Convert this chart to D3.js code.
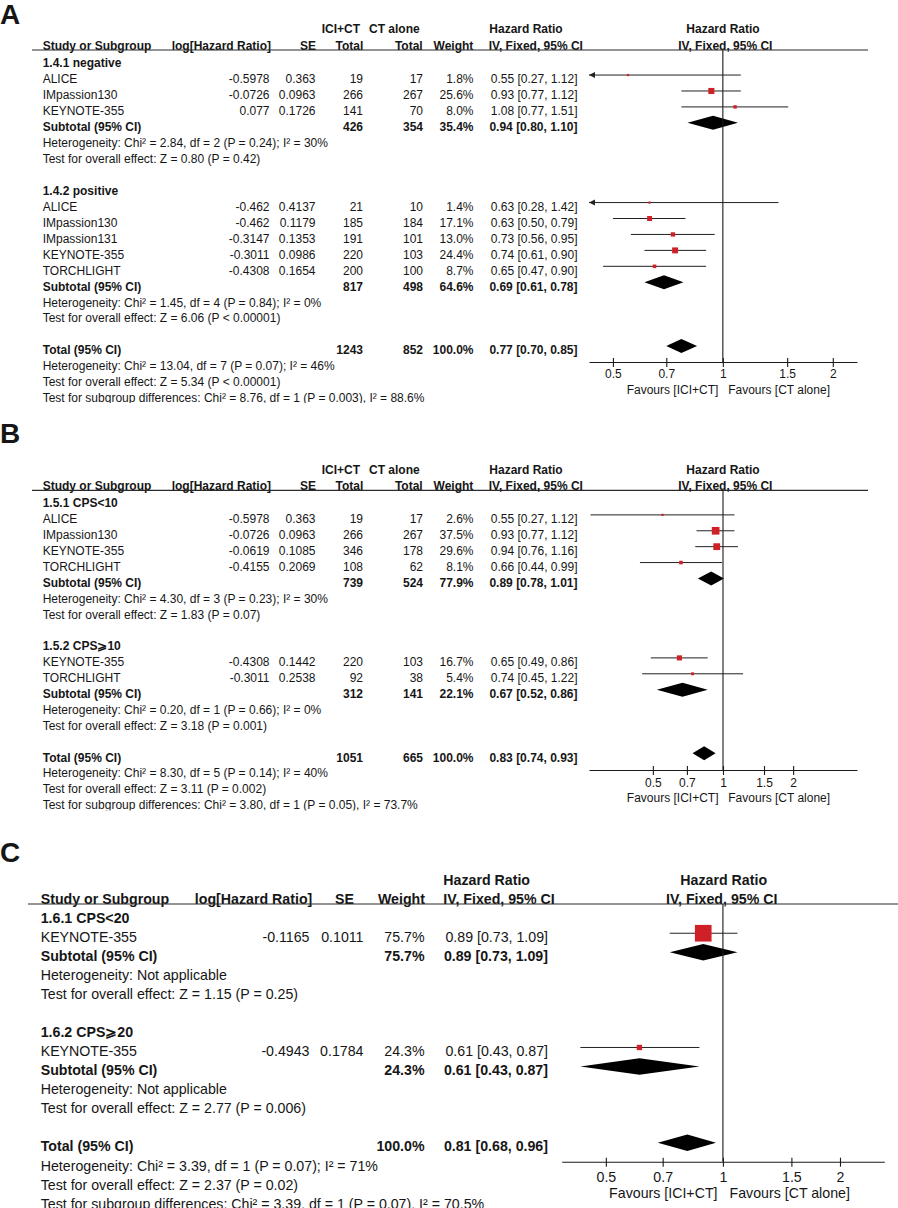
<!DOCTYPE html>
<html>
<head>
<meta charset="utf-8">
<script src="https://cdn.jsdelivr.net/npm/d3@7"></script>
<style>
  body { margin: 0; background: #fff; }
  svg { display: block; }
  text { font-family: "Liberation Sans", Arial, Helvetica, sans-serif; fill: #161616; }
</style>
</head>
<body>
<svg id="chart" width="898" height="1208"></svg>
<script>
// ---- Panel A: PD-L1 negative / positive
var aGroups = ["1.4.1 negative", "1.4.2 positive"];
var aStudies = ["ALICE", "IMpassion130", "KEYNOTE-355", "ALICE", "IMpassion130", "IMpassion131", "KEYNOTE-355", "TORCHLIGHT"];
var aGroupOf = [0, 0, 0, 1, 1, 1, 1, 1];
var aLogHR = [-0.5978, -0.0726, 0.077, -0.462, -0.462, -0.3147, -0.3011, -0.4308];
var aSE = [0.363, 0.0963, 0.1726, 0.4137, 0.1179, 0.1353, 0.0986, 0.1654];
var aExpN = [19, 266, 141, 21, 185, 191, 220, 200];
var aCtlN = [17, 267, 70, 10, 184, 101, 103, 100];
var aWeight = [1.8, 25.6, 8.0, 1.4, 17.1, 13.0, 24.4, 8.7];
var aHR = [0.55, 0.93, 1.08, 0.63, 0.63, 0.73, 0.74, 0.65];
var aLow = [0.27, 0.77, 0.77, 0.28, 0.50, 0.56, 0.61, 0.47];
var aHigh = [1.12, 1.12, 1.51, 1.42, 0.79, 0.95, 0.90, 0.90];
var aSubExpN = [426, 817];
var aSubCtlN = [354, 498];
var aSubWeight = [35.4, 64.6];
var aSubHR = [0.94, 0.69];
var aSubLow = [0.80, 0.61];
var aSubHigh = [1.10, 0.78];
var aSubHet = ["Heterogeneity: Chi² = 2.84, df = 2 (P = 0.24); I² = 30%", "Heterogeneity: Chi² = 1.45, df = 4 (P = 0.84); I² = 0%"];
var aSubTest = ["Test for overall effect: Z = 0.80 (P = 0.42)", "Test for overall effect: Z = 6.06 (P < 0.00001)"];
var aTotalN = [1243, 852];
var aTotalHR = [0.77, 0.70, 0.85];
var aNotes = ["Heterogeneity: Chi² = 13.04, df = 7 (P = 0.07); I² = 46%",
              "Test for overall effect: Z = 5.34 (P < 0.00001)",
              "Test for subgroup differences: Chi² = 8.76, df = 1 (P = 0.003), I² = 88.6%"];

// ---- Panel B: CPS<10 / CPS>=10
var bGroups = ["1.5.1 CPS<10", "1.5.2 CPS⩾10"];
var bStudies = ["ALICE", "IMpassion130", "KEYNOTE-355", "TORCHLIGHT", "KEYNOTE-355", "TORCHLIGHT"];
var bGroupOf = [0, 0, 0, 0, 1, 1];
var bLogHR = [-0.5978, -0.0726, -0.0619, -0.4155, -0.4308, -0.3011];
var bSE = [0.363, 0.0963, 0.1085, 0.2069, 0.1442, 0.2538];
var bExpN = [19, 266, 346, 108, 220, 92];
var bCtlN = [17, 267, 178, 62, 103, 38];
var bWeight = [2.6, 37.5, 29.6, 8.1, 16.7, 5.4];
var bHR = [0.55, 0.93, 0.94, 0.66, 0.65, 0.74];
var bLow = [0.27, 0.77, 0.76, 0.44, 0.49, 0.45];
var bHigh = [1.12, 1.12, 1.16, 0.99, 0.86, 1.22];
var bSubExpN = [739, 312];
var bSubCtlN = [524, 141];
var bSubWeight = [77.9, 22.1];
var bSubHR = [0.89, 0.67];
var bSubLow = [0.78, 0.52];
var bSubHigh = [1.01, 0.86];
var bSubHet = ["Heterogeneity: Chi² = 4.30, df = 3 (P = 0.23); I² = 30%", "Heterogeneity: Chi² = 0.20, df = 1 (P = 0.66); I² = 0%"];
var bSubTest = ["Test for overall effect: Z = 1.83 (P = 0.07)", "Test for overall effect: Z = 3.18 (P = 0.001)"];
var bTotalN = [1051, 665];
var bTotalHR = [0.83, 0.74, 0.93];
var bNotes = ["Heterogeneity: Chi² = 8.30, df = 5 (P = 0.14); I² = 40%",
              "Test for overall effect: Z = 3.11 (P = 0.002)",
              "Test for subgroup differences: Chi² = 3.80, df = 1 (P = 0.05), I² = 73.7%"];

// ---- Panel C: CPS<20 / CPS>=20
var cGroups = ["1.6.1 CPS<20", "1.6.2 CPS⩾20"];
var cStudies = ["KEYNOTE-355", "KEYNOTE-355"];
var cGroupOf = [0, 1];
var cLogHR = [-0.1165, -0.4943];
var cSE = [0.1011, 0.1784];
var cWeight = [75.7, 24.3];
var cHR = [0.89, 0.61];
var cLow = [0.73, 0.43];
var cHigh = [1.09, 0.87];
var cSubWeight = [75.7, 24.3];
var cSubHR = [0.89, 0.61];
var cSubLow = [0.73, 0.43];
var cSubHigh = [1.09, 0.87];
var cSubHet = ["Heterogeneity: Not applicable", "Heterogeneity: Not applicable"];
var cSubTest = ["Test for overall effect: Z = 1.15 (P = 0.25)", "Test for overall effect: Z = 2.77 (P = 0.006)"];
var cTotalHR = [0.81, 0.68, 0.96];
var cNotes = ["Heterogeneity: Chi² = 3.39, df = 1 (P = 0.07); I² = 71%",
              "Test for overall effect: Z = 2.37 (P = 0.02)",
              "Test for subgroup differences: Chi² = 3.39, df = 1 (P = 0.07), I² = 70.5%"];

var axisTicks = [0.5, 0.7, 1, 1.5, 2];
var favours = ["Favours [ICI+CT]", "Favours [CT alone]"];

var W = 898;
var svg = d3.select("#chart");
var fmt2 = d3.format(".2f"), fmt1 = d3.format(".1f");

// header cells for the panels with arm totals (A, B)
var hdrTotals = [
  {t: "ICI+CT", x: 321.7, a: "start", r: 1},
  {t: "CT alone", x: 369, a: "start", r: 1},
  {t: "Hazard Ratio", x: 489.3, a: "start", r: 1},
  {t: "Hazard Ratio", x: 723, a: "middle", r: 1},
  {t: "Study or Subgroup", x: 42.7, a: "start", r: 2},
  {t: "log[Hazard Ratio]", x: 271, a: "end", r: 2},
  {t: "SE", x: 316, a: "end", r: 2},
  {t: "Total", x: 363.3, a: "end", r: 2},
  {t: "Total", x: 422.7, a: "end", r: 2},
  {t: "Weight", x: 473.3, a: "end", r: 2},
  {t: "IV, Fixed, 95% CI", x: 488.7, a: "start", r: 2},
  {t: "IV, Fixed, 95% CI", x: 725.3, a: "middle", r: 2}
];
var hdrC = [
  {t: "Hazard Ratio", x: 443.3, a: "start", r: 1},
  {t: "Hazard Ratio", x: 723.7, a: "middle", r: 1},
  {t: "Study or Subgroup", x: 40.7, a: "start", r: 2},
  {t: "log[Hazard Ratio]", x: 312.3, a: "end", r: 2},
  {t: "SE", x: 354, a: "end", r: 2},
  {t: "Weight", x: 425, a: "end", r: 2},
  {t: "IV, Fixed, 95% CI", x: 443.3, a: "start", r: 2},
  {t: "IV, Fixed, 95% CI", x: 721.7, a: "middle", r: 2}
];

var layoutA = {
  label: "A", labelY: 24, top: 0, font: 12, hdr1Y: 33.3, lineY: 50, lineX: [32, 868],
  row0: 63.1, rowH: 15.94, markDy: -4, plotX: [589, 857], domain: [0.43, 2.33],
  axisY: 362, tickDy: 16.3, favDy: 31.5, favGap: [4.5, 5.3], clipY: 403,
  diamondH: 14, sizeExp: 0.5, sizeMax: 12, header: hdrTotals,
  cols: {name: 42.7, logHR: 269.5, se: 315.5, expN: 363, ctlN: 423, w: 473.5, ci: 577.5}
};
var layoutB = Object.assign({}, layoutA, {
  label: "B", labelY: 443, top: 410, hdr1Y: 474, lineY: 490.3,
  row0: 503, rowH: 15.89, domain: [0.266, 3.76], axisY: 770, tickDy: 17.3, clipY: 810.5,
  sizeMax: 12.5
});
var layoutC = {
  label: "C", labelY: 862, top: 815, font: 14.2, hdr1Y: 885, lineY: 904, lineX: [28, 898],
  row0: 917.9, rowH: 19.04, markDy: -3.7, plotX: [561.7, 884.3], domain: [0.385, 2.6],
  axisY: 1161.7, tickDy: 20, favDy: 36, favGap: [5.4, 6.6], clipY: 1208,
  diamondH: 16.5, sizeExp: 1, sizeMax: 22, header: hdrC,
  cols: {name: 40.7, logHR: 309.5, se: 363.5, w: 424.5, ci: 548}
};

function buildRows(D) {
  var rows = [];
  D.groups.forEach(function(name, g) {
    rows.push({kind: "group", text: name});
    D.studies.forEach(function(s, i) {
      if (D.groupOf[i] !== g) return;
      rows.push({kind: "study", text: s, logHR: D.logHR[i], se: D.se[i],
        expN: D.expN ? D.expN[i] : null, ctlN: D.ctlN ? D.ctlN[i] : null,
        w: D.weight[i], hr: D.hr[i], lo: D.low[i], hi: D.high[i]});
    });
    rows.push({kind: "sub", text: "Subtotal (95% CI)",
      expN: D.subExpN ? D.subExpN[g] : null, ctlN: D.subCtlN ? D.subCtlN[g] : null,
      w: D.subWeight[g], hr: D.subHR[g], lo: D.subLow[g], hi: D.subHigh[g]});
    rows.push({kind: "note", text: D.subHet[g]});
    rows.push({kind: "note", text: D.subTest[g]});
    rows.push({kind: "blank"});
  });
  rows.push({kind: "total", text: "Total (95% CI)",
    expN: D.totalN ? D.totalN[0] : null, ctlN: D.totalN ? D.totalN[1] : null,
    w: 100, hr: D.totalHR[0], lo: D.totalHR[1], hi: D.totalHR[2]});
  D.notes.forEach(function(n) { rows.push({kind: "note", text: n}); });
  return rows;
}

function drawPanel(L, D) {
  var rows = buildRows(D);
  var clipId = "clip" + L.label;
  svg.append("clipPath").attr("id", clipId)
    .append("rect").attr("x", 0).attr("y", L.top).attr("width", W).attr("height", L.clipY - L.top);

  svg.append("text")
    .attr("x", 0).attr("y", L.labelY)
    .style("font-size", "28px").style("font-weight", "bold")
    .text(L.label);

  var g = svg.append("g").attr("clip-path", "url(#" + clipId + ")").style("font-size", L.font + "px");

  // headers
  g.selectAll(".hdr").data(L.header).enter().append("text")
    .attr("x", function(d) { return d.x; })
    .attr("y", function(d) { return d.r === 1 ? L.hdr1Y : L.lineY - 0.5; })
    .attr("text-anchor", function(d) { return d.a; })
    .style("font-weight", "bold")
    .text(function(d) { return d.t; });

  g.append("line")
    .attr("x1", L.lineX[0]).attr("x2", L.lineX[1])
    .attr("y1", L.lineY).attr("y2", L.lineY)
    .attr("stroke", "#2a2a2a").attr("stroke-width", 1.2);

  var x = d3.scaleLog().domain(L.domain).range(L.plotX);
  var size = d3.scalePow().exponent(L.sizeExp).domain([0, 100]).range([0, L.sizeMax]);
  var base = L.font * 0.36;
  var C = L.cols;

  rows.forEach(function(r, i) {
    var cy = L.row0 + i * L.rowH;
    var by = cy + base;
    if (r.kind === "blank") return;
    var bold = r.kind === "group" || r.kind === "sub" || r.kind === "total";
    var cell = function(txt, xx, anchor) {
      g.append("text").attr("x", xx).attr("y", by)
        .attr("text-anchor", anchor || "end")
        .style("font-weight", bold ? "bold" : "normal")
        .text(txt);
    };
    cell(r.text, C.name, "start");
    if (r.kind === "group" || r.kind === "note") return;

    if (r.kind === "study") {
      cell(String(r.logHR), C.logHR);
      cell(String(r.se), C.se);
    }
    if (C.expN !== undefined && r.expN != null) {
      cell(String(r.expN), C.expN);
      cell(String(r.ctlN), C.ctlN);
    }
    cell(fmt1(r.w) + "%", C.w);
    cell(fmt2(r.hr) + " [" + fmt2(r.lo) + ", " + fmt2(r.hi) + "]", C.ci);

    var my = cy + L.markDy;
    if (r.kind === "study") {
      var d0 = L.domain[0], d1 = L.domain[1];
      var xl = x(Math.max(r.lo, d0)), xh = x(Math.min(r.hi, d1));
      g.append("line").attr("x1", xl).attr("x2", xh).attr("y1", my).attr("y2", my)
        .attr("stroke", "#222").attr("stroke-width", 1);
      if (r.lo < d0) {
        g.append("path")
          .attr("d", "M" + xl + "," + my + "L" + (xl + 6) + "," + (my - 3) + "L" + (xl + 6) + "," + (my + 3) + "Z")
          .attr("fill", "#222");
      }
      if (r.hi > d1) {
        g.append("path")
          .attr("d", "M" + xh + "," + my + "L" + (xh - 6) + "," + (my - 3) + "L" + (xh - 6) + "," + (my + 3) + "Z")
          .attr("fill", "#222");
      }
      var s = Math.max(2.2, size(r.w));
      g.append("rect")
        .attr("x", x(r.hr) - s / 2).attr("y", my - s / 2)
        .attr("width", s).attr("height", s)
        .attr("fill", "#cf2027");
    } else {
      var h = L.diamondH / 2;
      g.append("path")
        .attr("d", "M" + x(r.lo) + "," + my + "L" + x(r.hr) + "," + (my - h) +
                   "L" + x(r.hi) + "," + my + "L" + x(r.hr) + "," + (my + h) + "Z")
        .attr("fill", "#000");
    }
  });

  // line of no effect
  g.append("line")
    .attr("x1", x(1)).attr("x2", x(1))
    .attr("y1", L.lineY).attr("y2", L.axisY)
    .attr("stroke", "#1a1a1a").attr("stroke-width", 1.1);

  // axis
  var ax = g.append("g")
    .attr("transform", "translate(0," + L.axisY + ")")
    .call(d3.axisBottom(x).tickValues(axisTicks).tickFormat(d3.format("")).tickSizeOuter(0));
  ax.select(".domain").attr("stroke", "#1a1a1a").attr("stroke-width", 1.1);
  ax.selectAll(".tick line").attr("y1", -4).attr("y2", 5).attr("stroke", "#1a1a1a").attr("stroke-width", 1.1);
  ax.selectAll(".tick text")
    .attr("y", L.tickDy).attr("dy", null)
    .attr("fill", "#161616")
    .style("font-family", "\"Liberation Sans\", Arial, sans-serif")
    .style("font-size", L.font + "px");

  g.append("text").attr("x", x(1) - L.favGap[0]).attr("y", L.axisY + L.favDy)
    .attr("text-anchor", "end").text(favours[0]);
  g.append("text").attr("x", x(1) + L.favGap[1]).attr("y", L.axisY + L.favDy)
    .attr("text-anchor", "start").text(favours[1]);
}

drawPanel(layoutA, {
  groups: aGroups, studies: aStudies, groupOf: aGroupOf, logHR: aLogHR, se: aSE,
  expN: aExpN, ctlN: aCtlN, weight: aWeight, hr: aHR, low: aLow, high: aHigh,
  subExpN: aSubExpN, subCtlN: aSubCtlN, subWeight: aSubWeight, subHR: aSubHR,
  subLow: aSubLow, subHigh: aSubHigh, subHet: aSubHet, subTest: aSubTest,
  totalN: aTotalN, totalHR: aTotalHR, notes: aNotes
});
drawPanel(layoutB, {
  groups: bGroups, studies: bStudies, groupOf: bGroupOf, logHR: bLogHR, se: bSE,
  expN: bExpN, ctlN: bCtlN, weight: bWeight, hr: bHR, low: bLow, high: bHigh,
  subExpN: bSubExpN, subCtlN: bSubCtlN, subWeight: bSubWeight, subHR: bSubHR,
  subLow: bSubLow, subHigh: bSubHigh, subHet: bSubHet, subTest: bSubTest,
  totalN: bTotalN, totalHR: bTotalHR, notes: bNotes
});
drawPanel(layoutC, {
  groups: cGroups, studies: cStudies, groupOf: cGroupOf, logHR: cLogHR, se: cSE,
  weight: cWeight, hr: cHR, low: cLow, high: cHigh,
  subWeight: cSubWeight, subHR: cSubHR, subLow: cSubLow, subHigh: cSubHigh,
  subHet: cSubHet, subTest: cSubTest, totalHR: cTotalHR, notes: cNotes
});
</script>
</body>
</html>
